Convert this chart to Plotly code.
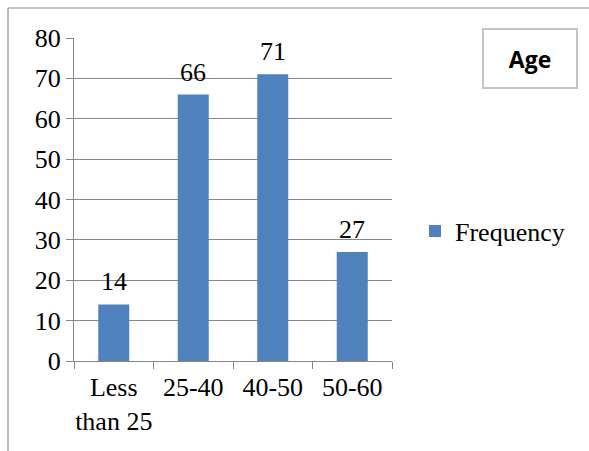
import plotly.graph_objects as go

# Data
categories = ["Less<br>than 25", "25-40", "40-50", "50-60"]
frequency = [14, 66, 71, 27]
y_ticks = [0, 10, 20, 30, 40, 50, 60, 70, 80]

W, H = 589, 451
L, R, T, B = 74, 392, 38, 361  # plot area in pixels


def px_x(x):
    return (x - L) / (R - L)


def px_y(y):
    return (B - y) / (B - T)


serif = "Liberation Serif, Times New Roman, serif"
grid = "#868686"
FS = 26

fig = go.Figure()
fig.add_trace(go.Bar(
    x=categories, y=frequency, name="Frequency",
    marker=dict(color="#4f81bd", line=dict(width=0)),
    width=0.39,
))

# value labels above each bar
labels = [
    dict(x=c, y=v, xref="x", yref="y", text=str(v), showarrow=False,
         xanchor="center", yanchor="bottom", yshift=6,
         font=dict(family=serif, size=FS, color="black"))
    for c, v in zip(categories, frequency)
]

fig.update_layout(
    width=W, height=H,
    margin=dict(l=L, r=W - R, t=T, b=H - B, pad=0, autoexpand=False),
    paper_bgcolor="white", plot_bgcolor="white",
    font=dict(family=serif, size=FS, color="black"),
    showlegend=True,
    legend=dict(x=px_x(415), y=px_y(231), xanchor="left", yanchor="middle",
                font=dict(family=serif, size=FS, color="black"),
                bgcolor="rgba(0,0,0,0)", itemwidth=30),
    xaxis=dict(showgrid=False, showline=True, linecolor=grid, linewidth=1,
               ticks="outside", ticklen=7, tickcolor=grid, tickson="boundaries",
               tickangle=0, automargin=False, ticklabelstandoff=3,
               tickfont=dict(family=serif, size=FS, color="black")),
    yaxis=dict(range=[0, 80], tickvals=y_ticks, showgrid=True, gridcolor=grid,
               gridwidth=1, showline=True, linecolor=grid, linewidth=1,
               ticks="outside", ticklen=7, tickcolor=grid, zeroline=False,
               automargin=False,
               tickfont=dict(family=serif, size=FS, color="black")),
    shapes=[
        dict(type="line", xref="paper", yref="paper",
             x0=px_x(8), x1=px_x(W + 5), y0=px_y(8), y1=px_y(8),
             line=dict(color="#8c8c8c", width=1.2)),
        dict(type="line", xref="paper", yref="paper",
             x0=px_x(8), x1=px_x(8), y0=px_y(8), y1=px_y(H + 5),
             line=dict(color="#8c8c8c", width=1.2)),
    ],
    annotations=labels + [
        dict(text="<b>Age</b>", xref="paper", yref="paper",
             x=px_x(530), y=px_y(58.5), xanchor="center", yanchor="middle",
             showarrow=False, width=92, height=57,
             bordercolor="#c4c4c4", borderwidth=2, borderpad=0,
             font=dict(family="Open Sans, Liberation Sans, sans-serif",
                       size=23, color="black")),
    ],
)

fig.write_html("out.html")
